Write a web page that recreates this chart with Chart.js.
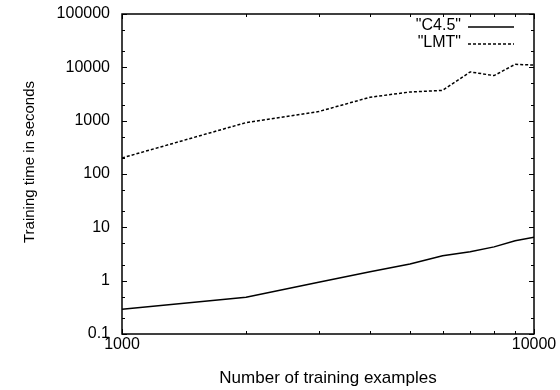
<!DOCTYPE html>
<html>
<head>
<meta charset="utf-8">
<script src="https://cdn.jsdelivr.net/npm/chart.js@4/dist/chart.umd.min.js"></script>
<style>
  html, body { margin: 0; padding: 0; background: #fff; }
  #wrap { width: 560px; height: 390px; position: relative; }
</style>
</head>
<body>
<div id="wrap"><canvas id="timeChart"></canvas></div>
<script>
// training set sizes and training times
const trainingSizes = [1000, 2000, 3000, 4000, 5000, 6000, 7000, 8000, 9000, 10000];
const c45Times = [0.29, 0.49, 0.93, 1.47, 2.05, 2.94, 3.5, 4.3, 5.6, 6.5];
const lmtTimes = [200, 920, 1480, 2750, 3450, 3700, 8200, 7000, 11400, 11000];

const seriesNames = ['"C4.5"', '"LMT"'];

const xTickValues = [1000, 10000];
const xMinorTicks = [2000, 3000, 4000, 5000, 6000, 7000, 8000, 9000];
const yTickValues = [0.1, 1, 10, 100, 1000, 10000, 100000];
const yMinorTicks = [0.2, 0.5, 2, 5, 20, 50, 200, 500, 2000, 5000, 20000, 50000];

const xTitle = 'Number of training examples';
const yTitle = 'Training time in seconds';

const FONT = '"Liberation Sans", Arial, Helvetica, sans-serif';

function toPoints(values) {
    return trainingSizes.map((n, i) => ({ x: n, y: values[i] }));
}

// gnuplot style frame: border, inward ticks on all four sides, key and titles
const gnuplotFrame = {
    id: 'gnuplotFrame',
    afterDraw(chart) {
        const { ctx, chartArea: a } = chart;
        const x = chart.scales.x;
        const y = chart.scales.y;
        ctx.save();

        ctx.strokeStyle = '#000';
        ctx.lineWidth = 1;
        ctx.beginPath();
        const xTick = (v, len) => {
            const px = Math.round(x.getPixelForValue(v)) + 0.5;
            ctx.moveTo(px, a.bottom); ctx.lineTo(px, a.bottom - len);
            ctx.moveTo(px, a.top); ctx.lineTo(px, a.top + len);
        };
        const yTick = (v, len) => {
            const py = Math.round(y.getPixelForValue(v)) + 0.5;
            ctx.moveTo(a.left, py); ctx.lineTo(a.left + len, py);
            ctx.moveTo(a.right, py); ctx.lineTo(a.right - len, py);
        };
        xTickValues.forEach(v => xTick(v, 5));
        xMinorTicks.forEach(v => xTick(v, 3));
        yTickValues.forEach(v => yTick(v, 5));
        yMinorTicks.forEach(v => yTick(v, 3));
        ctx.stroke();

        ctx.lineWidth = 1.5;
        ctx.strokeRect(a.left, a.top, a.width, a.height);

        // key, top right
        ctx.font = '16px ' + FONT;
        ctx.fillStyle = '#000';
        ctx.textAlign = 'right';
        ctx.textBaseline = 'middle';
        chart.data.datasets.forEach((ds, i) => {
            const ly = 27 + i * 17;
            ctx.fillText(ds.label, 461, ly - 1);
            ctx.beginPath();
            ctx.setLineDash(ds.borderDash || []);
            ctx.lineWidth = ds.borderWidth;
            ctx.strokeStyle = ds.borderColor;
            ctx.moveTo(468, ly);
            ctx.lineTo(514, ly);
            ctx.stroke();
        });
        ctx.setLineDash([]);

        // axis titles
        ctx.textAlign = 'center';
        ctx.font = '17px ' + FONT;
        ctx.fillText(xTitle, (a.left + a.right) / 2, 378);
        ctx.save();
        ctx.translate(30, 162);
        ctx.rotate(-Math.PI / 2);
        ctx.font = '15px ' + FONT;
        ctx.fillText(yTitle, 0, 0);
        ctx.restore();

        ctx.restore();
    }
};

new Chart(document.getElementById('timeChart'), {
    type: 'line',
    data: {
        datasets: [{
            label: seriesNames[0],
            data: toPoints(c45Times),
            borderColor: '#000',
            borderWidth: 1.5,
            pointRadius: 0,
            fill: false,
            tension: 0
        }, {
            label: seriesNames[1],
            data: toPoints(lmtTimes),
            borderColor: '#000',
            borderWidth: 1.5,
            borderDash: [3, 2],
            pointRadius: 0,
            fill: false,
            tension: 0
        }]
    },
    plugins: [gnuplotFrame],
    options: {
        responsive: true,
        maintainAspectRatio: false,
        animation: false,
        layout: {
            autoPadding: false,
            padding: { top: 14, right: 26, left: 0, bottom: 0 }
        },
        plugins: {
            legend: { display: false },
            tooltip: { enabled: false }
        },
        scales: {
            x: {
                type: 'logarithmic',
                min: 1000,
                max: 10000,
                grid: { display: false, drawTicks: false },
                border: { display: false },
                afterBuildTicks: scale => { scale.ticks = xTickValues.map(v => ({ value: v })); },
                afterFit: scale => {
                    scale.height = 56;
                    scale.paddingLeft = 0;
                    scale.paddingRight = 0;
                },
                ticks: {
                    color: '#000',
                    font: { family: FONT, size: 16 },
                    padding: 1,
                    maxRotation: 0,
                    autoSkip: false,
                    callback: v => String(v)
                }
            },
            y: {
                type: 'logarithmic',
                min: 0.1,
                max: 100000,
                grid: { display: false, drawTicks: false },
                border: { display: false },
                afterBuildTicks: scale => { scale.ticks = yTickValues.map(v => ({ value: v })); },
                afterFit: scale => {
                    scale.width = 122;
                    scale.paddingTop = 0;
                    scale.paddingBottom = 0;
                },
                ticks: {
                    color: '#000',
                    font: { family: FONT, size: 16 },
                    padding: 12,
                    autoSkip: false,
                    callback: v => String(v)
                }
            }
        }
    }
});
</script>
</body>
</html>
